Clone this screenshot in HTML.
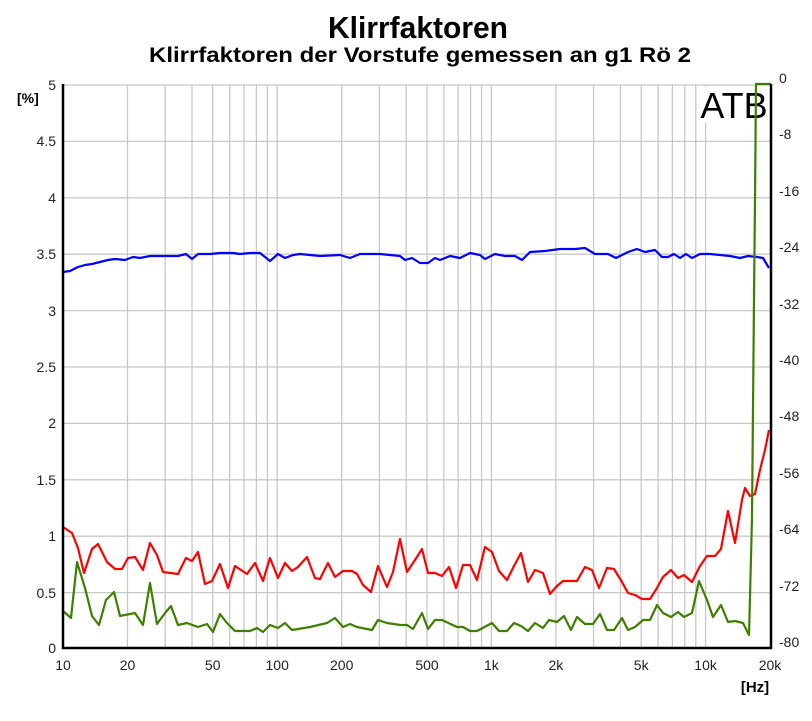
<!DOCTYPE html>
<html><head><meta charset="utf-8"><style>body{margin:0;background:#fff}svg{display:block}</style></head><body>
<svg width="812" height="721" viewBox="0 0 812 721" xmlns="http://www.w3.org/2000/svg" font-family="Liberation Sans, Arial, sans-serif">
<rect width="812" height="721" fill="#fff"/>
<text x="328" y="38" font-size="31" font-weight="bold" textLength="180" lengthAdjust="spacingAndGlyphs">Klirrfaktoren</text>
<text x="149" y="62" font-size="21" font-weight="bold" textLength="542" lengthAdjust="spacingAndGlyphs">Klirrfaktoren der Vorstufe gemessen an g1 Rö 2</text>
<g stroke="#c8c8c8" stroke-width="1.3">
<line x1="63" y1="85" x2="771" y2="85"/><line x1="63" y1="141.4" x2="771" y2="141.4"/><line x1="63" y1="197.8" x2="771" y2="197.8"/><line x1="63" y1="254.2" x2="771" y2="254.2"/><line x1="63" y1="310.6" x2="771" y2="310.6"/><line x1="63" y1="367" x2="771" y2="367"/><line x1="63" y1="423.4" x2="771" y2="423.4"/><line x1="63" y1="479.8" x2="771" y2="479.8"/><line x1="63" y1="536.2" x2="771" y2="536.2"/><line x1="63" y1="592.6" x2="771" y2="592.6"/>
<path d="M127.5 85V648M165.2 85V648M192 85V648M212.7 85V648M229.7 85V648M244 85V648M256.4 85V648M267.4 85V648M277.2 85V648M341.7 85V648M379.4 85V648M406.2 85V648M427 85V648M443.9 85V648M458.2 85V648M470.6 85V648M481.6 85V648M491.4 85V648M555.9 85V648M593.6 85V648M620.4 85V648M641.2 85V648M658.1 85V648M672.4 85V648M684.8 85V648M695.8 85V648M705.6 85V648"/>
</g>
<rect x="699" y="87" width="70" height="36" fill="#fff"/>
<text x="734" y="118" font-size="36" text-anchor="middle">ATB</text>
<g fill="none" stroke-width="2.2" stroke-linejoin="round">
<polyline stroke="#0000ff" points="63,272 70,271 78,267 85,265 92,264 100,262 108,260 115,259 125,260 133,257 140,258 150,256 165,256 178,256 186,254 192,259 198,254 210,254 220,253 233,253 240,254 250,253 260,253 270,261 278,254 285,258 293,255 300,254 320,256 340,255 350,258 360,254 380,254 400,256 405,260 412,258 420,263 428,263 435,258 440,260 450,256 460,258 470,253 480,255 485,259 495,254 505,256 515,256 522,260 530,252 545,251 560,249 575,249 585,248 595,254 608,254 616,258 628,252 637,249 645,252 655,250 662,257 668,257 674,254 680,258 686,254 692,258 700,254 710,254 720,255 730,256 740,258 748,256 757,257 763,258 769,268"/>
<polyline stroke="#ff0000" points="63,527 72,533 78,548 84,573 92,549 98,544 107,562 115,569 122,569 128,558 135,557 143,570 150,543 157,555 163,572 178,574 186,558 192,561 198,552 205,584 212,581 220,564 228,588 235,566 247,574 255,563 263,581 270,558 278,578 285,563 292,571 298,567 307,557 315,578 320,579 328,563 335,577 343,571 352,571 357,574 363,585 371,592 378,566 387,587 393,572 400,539 407,572 415,560 422,549 428,573 435,573 442,576 449,567 456,588 463,565 470,565 477,580 485,547 492,552 499,571 507,580 514,566 521,553 528,582 535,570 543,573 550,594 557,586 563,581 577,581 585,567 592,570 599,588 607,568 614,569 622,582 628,593 635,595 642,599 650,599 657,588 663,577 671,570 678,578 684,575 692,582 700,566 707,556 715,556 721,549 728,511 735,543 742,500 745,488 750,496 755,494 760,470 765,450 769,430"/>
<polyline stroke="#3c8000" points="63,611 71,618 77,562 85,588 92,616 99,625 106,600 114,592 120,616 135,613 143,625 150,583 157,624 165,613 171,606 178,625 187,623 198,627 207,624 213,632 220,614 227,623 235,631 250,631 257,628 263,632 270,625 278,628 285,623 292,630 310,627 327,623 335,618 343,627 350,624 357,627 372,630 378,620 387,623 400,625 407,625 413,629 422,613 428,629 435,620 442,620 457,627 463,627 470,631 477,631 492,623 499,631 507,631 514,623 521,626 528,631 535,623 543,628 549,620 557,622 564,616 571,630 577,617 585,624 593,624 600,614 607,630 614,630 622,618 628,630 635,627 643,620 650,620 657,605 663,613 671,617 678,612 684,617 692,613 699,581 707,600 713,617 721,605 728,622 735,621 743,623 749,635 750,597 752,517 754,300 755,200 756,84 771,84"/>
</g>
<g stroke="#000" stroke-width="2.5"><line x1="63" y1="84" x2="63" y2="649"/><line x1="771" y1="84" x2="771" y2="649"/><line x1="62" y1="648" x2="772" y2="648"/></g>
<g font-size="14" fill="#222" text-anchor="end">
<text x="56" y="90">5</text><text x="56" y="146">4.5</text><text x="56" y="203">4</text><text x="56" y="259">3.5</text><text x="56" y="316">3</text><text x="56" y="372">2.5</text><text x="56" y="428">2</text><text x="56" y="485">1.5</text><text x="56" y="541">1</text><text x="56" y="598">0.5</text><text x="56" y="653">0</text>
</g>
<text x="17" y="103" font-size="14" font-weight="bold">[%]</text>
<g font-size="14" fill="#222" text-anchor="start">
<text x="779" y="83">0</text><text x="779" y="139">-8</text><text x="779" y="196">-16</text><text x="779" y="252">-24</text><text x="779" y="309">-32</text><text x="779" y="365">-40</text><text x="779" y="421">-48</text><text x="779" y="478">-56</text><text x="779" y="534">-64</text><text x="779" y="591">-72</text><text x="779" y="647">-80</text>
</g>
<g font-size="14" fill="#222" text-anchor="middle">
<text x="63" y="670">10</text><text x="127.5" y="670">20</text><text x="212.7" y="670">50</text><text x="277.2" y="670">100</text><text x="341.7" y="670">200</text><text x="427" y="670">500</text><text x="491.4" y="670">1k</text><text x="555.9" y="670">2k</text><text x="641.2" y="670">5k</text><text x="705.6" y="670">10k</text><text x="770" y="670">20k</text>
</g>
<text x="755" y="692" font-size="15" font-weight="bold" text-anchor="middle">[Hz]</text>
</svg>
</body></html>
